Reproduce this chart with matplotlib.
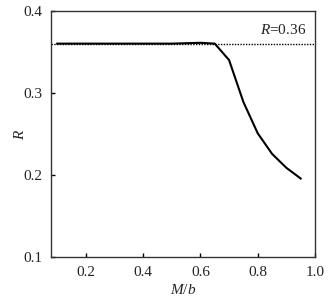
import matplotlib
matplotlib.use("Agg")
import matplotlib.pyplot as plt

plt.rcParams["font.family"] = ["Liberation Serif", "DejaVu Serif"]
plt.rcParams["mathtext.fontset"] = "custom"
plt.rcParams["mathtext.rm"] = "Liberation Serif"
plt.rcParams["mathtext.it"] = "Liberation Serif:italic"

# M/b vs R
m_over_b = [0.10, 0.20, 0.30, 0.40, 0.50, 0.55, 0.60, 0.65, 0.70, 0.75, 0.80, 0.85, 0.90, 0.95]
r_values = [0.360, 0.360, 0.360, 0.360, 0.360, 0.3605, 0.361, 0.360, 0.340, 0.289, 0.251, 0.226, 0.209, 0.196]
r_ref = 0.36

x_ticks = [0.2, 0.4, 0.6, 0.8, 1.0]
y_ticks = [0.1, 0.2, 0.3, 0.4]

fig = plt.figure(figsize=(3.33, 2.98), dpi=100)
ax = fig.add_axes([0.152, 0.136, 0.794, 0.828])

ax.plot(m_over_b, r_values, color="black", lw=1.5)
ax.axhline(r_ref, color="black", lw=1.0, ls=(0, (1, 1)))
ax.text(0.969, r_ref + 0.008, "$R$=0.36", ha="right", va="bottom", fontsize=11,
        color="#222222")

ax.set_xlim(0.077, 1.0)
ax.set_ylim(0.1, 0.4)
ax.set_xticks(x_ticks)
ax.set_yticks(y_ticks)
ax.set_xticklabels([f"{t:.1f}" for t in x_ticks])
ax.set_yticklabels([f"{t:.1f}" for t in y_ticks])
ax.tick_params(direction="in", length=3, width=1, labelsize=11, pad=6,
               labelcolor="#222222")
ax.set_xlabel("$M/b$", fontsize=11, va="center", color="#222222")
ax.set_ylabel("$R$", fontsize=11, va="center", color="#222222")
ax.xaxis.set_label_coords(0.5, -0.13)
ax.yaxis.set_label_coords(-0.116, 0.5)
for s in ax.spines.values():
    s.set_linewidth(1.0)
    s.set_color("#333333")

fig.savefig("out.png", dpi=100)
